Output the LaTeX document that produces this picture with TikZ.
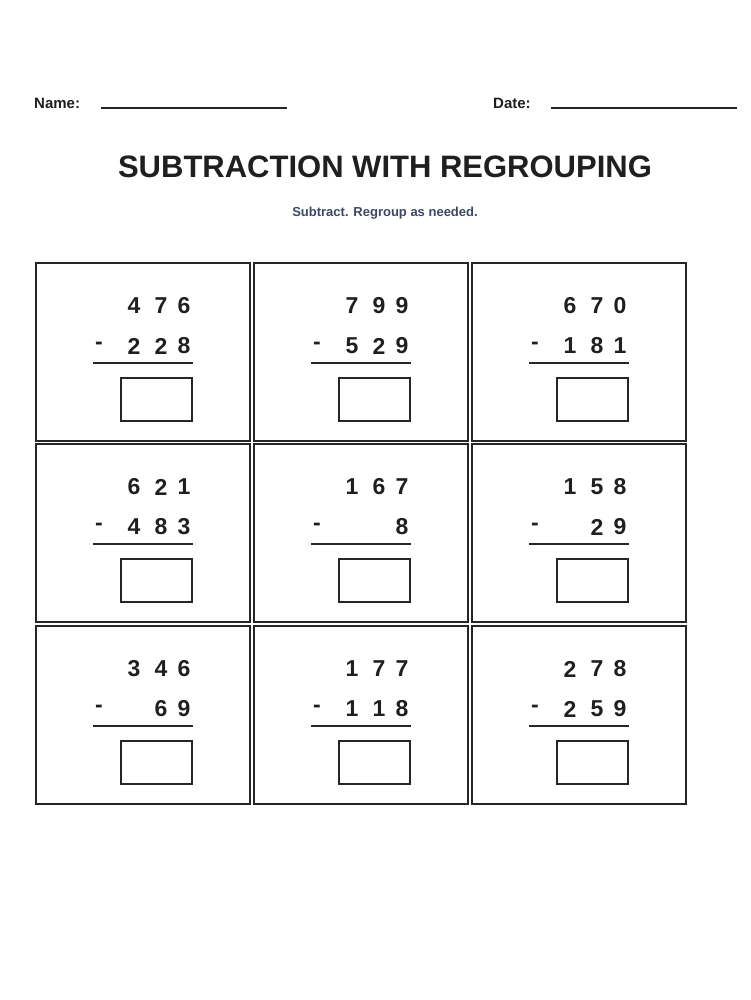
\documentclass[tikz,border=0pt]{standalone}
\usepackage{fontspec}
\setmainfont{Liberation Sans}
\begin{document}
\begin{tikzpicture}[x=1pt,y=-1pt,
  cell/.style={draw=black!85,line width=1.6pt},
  dig/.style={font=\fontsize{23}{23}\selectfont\bfseries,text=black!88,anchor=center,inner sep=0},
  ans/.style={draw=black!85,line width=2pt},
  lab/.style={font=\fontsize{15}{15}\selectfont\bfseries,text=black!88,anchor=west,inner sep=0}]
\useasboundingbox (0,0) rectangle (750,1000);
\node[lab] (name) at (34,103) {Name:};
\node[lab] (date) at (493,103) {Date:};
\draw[line width=1.2pt,black!85] (101,108) -- (287,108);
\draw[line width=1.2pt,black!85] (551,108) -- (737,108);
\node[font=\fontsize{31}{31}\selectfont\bfseries,text=black!88] (title) at (385,167) {SUBTRACTION WITH REGROUPING};
\node[font=\fontsize{13}{13}\selectfont\bfseries,text={rgb,255:red,61;green,72;blue,96}] (sub) at (385,213) {Subtract. Regroup as needed.};
\newcommand{\prob}[9]{%
  \begin{scope}[shift={(#1,#2)}]
  \draw[cell] (0,0) rectangle (214,178);
  \node[dig] at (98,43) {#3}; \node[dig] at (125,43) {#4}; \node[dig] at (148,43) {#5};
  \node[dig] at (63,83) {-};
  \node[dig] at (98,83) {#6}; \node[dig] at (125,83) {#7}; \node[dig] at (148,83) {#8};
  \draw[line width=2.2pt,black!85] (57,100) -- (157,100);
  \draw[ans] (85,115) rectangle (156,158);
  \end{scope}}
\prob{36}{263}{4}{7}{6}{2}{2}{8}{}
\prob{254}{263}{7}{9}{9}{5}{2}{9}{}
\prob{472}{263}{6}{7}{0}{1}{8}{1}{}
\prob{36}{444}{6}{2}{1}{4}{8}{3}{}
\prob{254}{444}{1}{6}{7}{}{}{8}{}
\prob{472}{444}{1}{5}{8}{}{2}{9}{}
\prob{36}{626}{3}{4}{6}{}{6}{9}{}
\prob{254}{626}{1}{7}{7}{1}{1}{8}{}
\prob{472}{626}{2}{7}{8}{2}{5}{9}{}
\end{tikzpicture}
\end{document}
